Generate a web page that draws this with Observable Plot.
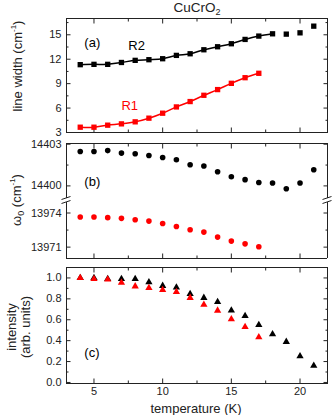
<!DOCTYPE html>
<html><head><meta charset="utf-8">
<script src="https://cdn.jsdelivr.net/npm/d3@7"></script>
<script src="https://cdn.jsdelivr.net/npm/@observablehq/plot@0.6"></script>
<style>
body{margin:0;background:#fff;font-family:"Liberation Sans",Arial,sans-serif;}
#chart{position:relative;width:332px;height:415px;overflow:hidden;background:#fff}
#chart svg{position:absolute;left:0;overflow:visible}
.lbl{position:absolute;font-size:13px;color:#222;white-space:nowrap;line-height:1}
.rot{transform:translate(-50%,-50%) rotate(-90deg)}
.ctr{transform:translate(-50%,-50%)}
sup{font-size:8px;vertical-align:6px}
sub{font-size:9px;vertical-align:-3px}
</style></head><body><div id="chart"></div>
<script>
// ---- data ----
const temperature = [4,5,6,7,8,9,10,11,12,13,14,15,16,17,18,19,20,21];
const temperatureR1 = [4,5,6,7,8,9,10,11,12,13,14,15,16,17];
const temperatureFitR2 = [4,5,6,7,8,9,10,11,12,13,14,15,16,17,18];
const lineWidthR2 = [11.33,11.37,11.37,11.6,11.86,11.94,12.06,12.47,12.67,13.16,13.53,13.9,14.43,14.84,15.12,15.08,15.24,16.06];
const lineWidthR1 = [3.65,3.65,3.9,4.06,4.31,4.76,5.37,6.14,6.8,7.57,8.27,9.04,9.73,10.27];
const omegaR2 = [14402.47,14402.47,14402.54,14402.36,14402.31,14402.19,14402.04,14401.88,14401.52,14401.43,14401.02,14400.66,14400.45,14400.24,14400.21,14399.79,14400.21,14401.16];
const omegaR1 = [13973.65,13973.65,13973.59,13973.53,13973.41,13973.29,13973.08,13972.82,13972.53,13972.32,13971.88,13971.53,13971.29,13971.03];
const intensityR2 = [1.0,1.0,0.99,0.99,0.99,0.96,0.925,0.91,0.847,0.81,0.77,0.69,0.637,0.551,0.462,0.389,0.252,0.16];
const intensityR1 = [1.0,0.99,0.985,0.955,0.92,0.905,0.885,0.866,0.81,0.745,0.688,0.605,0.532,0.434];

const xTicks = [5,10,15,20];
const xMinorTicks = [7.5,12.5,17.5];
const widthTicks = [3,6,9,12,15];
const widthMinorTicks = [4.5,7.5,10.5,13.5,16.5];
const omegaHighTicks = [14400,14403];
const omegaHighMinorTicks = [14401.5];
const omegaLowTicks = [13971,13974];
const omegaLowMinorTicks = [13972.5];
const intensityTicks = [0,0.2,0.4,0.6,0.8,1.0];
const intensityMinorTicks = [0.1,0.3,0.5,0.7,0.9];

const RED = "#ff0000", BLACK = "#000000", AX = "#222";
const xDomain = [3,22];
const W = 332, ML = 66, MR = 5;

const r2 = temperature.map((t,i)=>({t, w: lineWidthR2[i], o: omegaR2[i], I: intensityR2[i]}));
const r1 = temperatureR1.map((t,i)=>({t, w: lineWidthR1[i], o: omegaR1[i], I: intensityR1[i]}));
const fitR2 = temperatureFitR2.map((t,i)=>({t, w: lineWidthR2[i]}));

const blank = () => "";
function yAxes(major, minor, fmt){
  return [
    Plot.axisY(major, {anchor:"left", tickSize:-4.5, tickFormat:blank, label:null, stroke:AX}),
    Plot.axisY(minor, {anchor:"left", tickSize:-2.5, tickFormat:blank, label:null, stroke:AX}),
    Plot.axisY(major, {anchor:"right", tickSize:-4.5, tickFormat:blank, label:null, stroke:AX}),
    Plot.axisY(minor, {anchor:"right", tickSize:-2.5, tickFormat:blank, label:null, stroke:AX}),
    Plot.axisY(major, {anchor:"left", tickSize:0, tickPadding:5, tickFormat:fmt, label:null, fill:AX, fontSize:11})
  ];
}
function xAxes(sides, labels){
  const out = [];
  for (const s of sides){
    out.push(Plot.axisX(xTicks, {anchor:s, tickSize:-4.5, tickFormat:blank, label:null, stroke:AX}));
    out.push(Plot.axisX(xMinorTicks, {anchor:s, tickSize:-2.5, tickFormat:blank, label:null, stroke:AX}));
  }
  if (labels) out.push(Plot.axisX(xTicks, {anchor:"bottom", tickSize:0, tickPadding:4, tickFormat:d3.format("d"), label:null, fill:AX, fontSize:11}));
  return out;
}
function panel(top, height, mTop, mBottom, yDomain, marks){
  const svg = Plot.plot({
    width: W, height, marginLeft: ML, marginRight: MR, marginTop: mTop, marginBottom: mBottom,
    style: {background:"none", fontFamily:"Liberation Sans, Arial, sans-serif", fontSize:"11px", color:AX, overflow:"visible"},
    x: {domain: xDomain},
    y: {domain: yDomain},
    marks
  });
  svg.style.top = top + "px";
  document.getElementById("chart").appendChild(svg);
}
const textStyle = {fontSize:13, fontFamily:"Liberation Sans, Arial, sans-serif", textAnchor:"start"};

// (a) line width
panel(0, 140, 18, 8, [3,17], [
  Plot.frame({stroke:AX}),
  ...yAxes(widthTicks, widthMinorTicks, d3.format("d")),
  ...xAxes(["top","bottom"], false),
  Plot.line(fitR2, {x:"t", y:"w", stroke:BLACK, strokeWidth:1.5, curve:"catmull-rom"}),
  Plot.line(r1, {x:"t", y:"w", stroke:RED, strokeWidth:1.5, curve:"catmull-rom"}),
  Plot.dot(r2, {x:"t", y:"w", symbol:"square", r:3, fill:BLACK}),
  Plot.dot(r1, {x:"t", y:"w", symbol:"square", r:3, fill:RED}),
  Plot.text(["(a)"], {x:4.3, y:14.0, text:d=>d, fill:BLACK, ...textStyle}),
  Plot.text(["R2"], {x:7.5, y:13.6, text:d=>d, fill:BLACK, ...textStyle}),
  Plot.text(["R1"], {x:7.0, y:6.3, text:d=>d, fill:RED, ...textStyle})
]);

// (b) upper part
panel(134, 66, 9, 0, [14398.95,14403.05], [
  Plot.ruleX(xDomain, {stroke:AX}),
  Plot.ruleY([14403.05], {stroke:AX}),
  ...yAxes(omegaHighTicks, omegaHighMinorTicks, d3.format("d")),
  ...xAxes(["top"], false),
  Plot.dot(r2, {x:"t", y:"o", r:2.8, fill:BLACK}),
  Plot.text(["(b)"], {x:4.3, y:14400.3, text:d=>d, fill:BLACK, ...textStyle})
]);

// (b) lower part
panel(200, 66, 0, 8, [13970,13975.1], [
  Plot.ruleX(xDomain, {stroke:AX}),
  Plot.ruleY([13970], {stroke:AX}),
  ...yAxes(omegaLowTicks, omegaLowMinorTicks, d3.format("d")),
  ...xAxes(["bottom"], false),
  Plot.dot(r1, {x:"t", y:"o", r:2.8, fill:RED})
]);

// (c) intensity
panel(258, 157, 9, 32, [-0.01,1.1], [
  Plot.frame({stroke:AX}),
  ...yAxes(intensityTicks, intensityMinorTicks, d3.format(".1f")),
  ...xAxes(["top","bottom"], true),
  Plot.dot(r2, {x:"t", y:"I", symbol:"triangle", r:2.7, fill:BLACK}),
  Plot.dot(r1, {x:"t", y:"I", symbol:"triangle", r:2.7, fill:RED}),
  Plot.text(["(c)"], {x:4.3, y:0.28, text:d=>d, fill:BLACK, ...textStyle})
]);

// axis break marks on panel (b)
const chart = d3.select("#chart");
const brk = chart.append("svg").attr("width",W).attr("height",415).style("top","0px").style("pointer-events","none");
for (const bx of [ML, W-MR]){
  brk.append("rect").attr("x",bx-5).attr("y",198).attr("width",10).attr("height",4).attr("fill","#fff");
  brk.append("line").attr("x1",bx-4.5).attr("y1",199.5).attr("x2",bx+4.5).attr("y2",196.5).attr("stroke",AX);
  brk.append("line").attr("x1",bx-4.5).attr("y1",203.5).attr("x2",bx+4.5).attr("y2",200.5).attr("stroke",AX);
}

// titles and axis labels
const el = document.getElementById("chart");
function label(html, x, y, cls, size){
  const d = document.createElement("div");
  d.className = "lbl " + cls;
  d.style.left = x + "px"; d.style.top = y + "px";
  if (size) d.style.fontSize = size + "px";
  d.innerHTML = html;
  el.appendChild(d);
}
label("CuCrO<sub>2</sub>", 197, 9, "ctr", 13.5);
label("line width (cm<sup>-1</sup>)", 17, 66, "rot");
label("ω<sub>0</sub> (cm<sup>-1</sup>)", 17, 200, "rot");
label("intensity", 11, 327, "rot");
label("(arb. units)", 25, 327, "rot");
label("temperature (K)", 196, 407.5, "ctr");
</script></body></html>
